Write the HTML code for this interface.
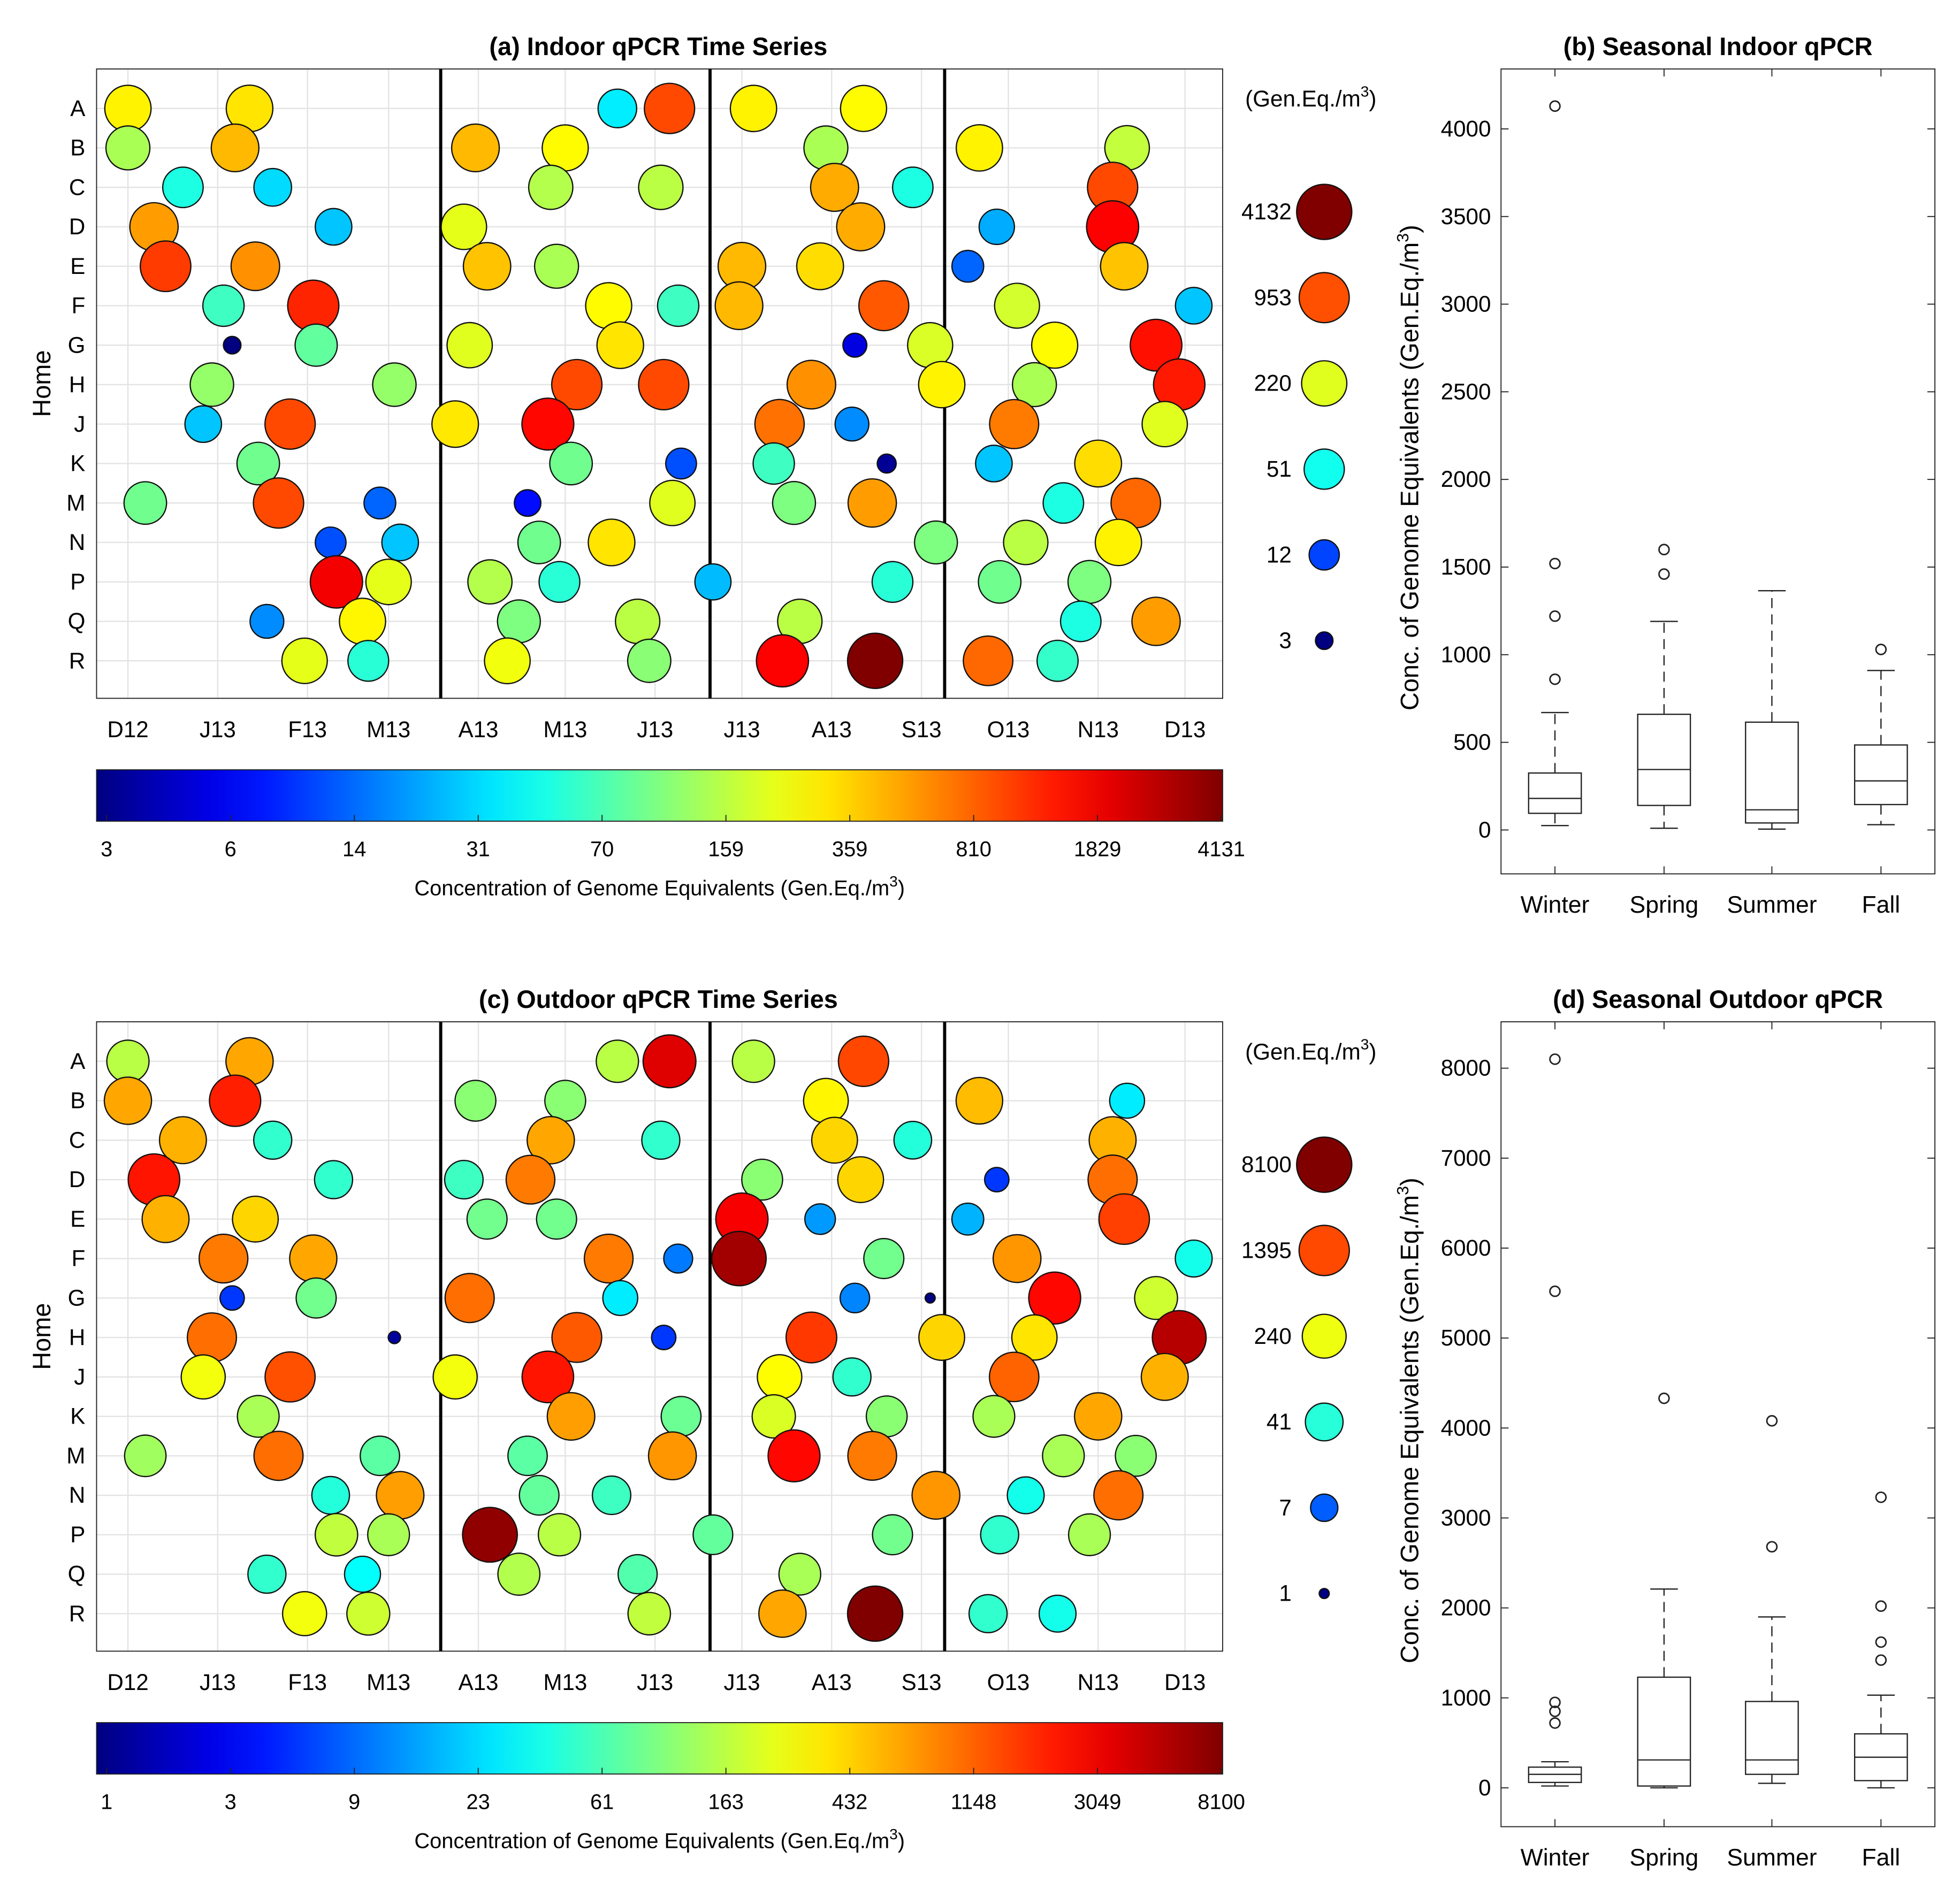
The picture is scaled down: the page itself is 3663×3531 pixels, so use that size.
<!DOCTYPE html>
<html><head><meta charset="utf-8"><style>
html,body{margin:0;padding:0;background:#fff;}
svg{display:block;font-family:"Liberation Sans",Arial,sans-serif;}
</style></head><body>
<svg id="fig" width="3663" height="3531" viewBox="0 0 1563 1506.7" xmlns="http://www.w3.org/2000/svg"></svg>
<script>
// ---------- DATA ----------
const rowLabels = ["A","B","C","D","E","F","G","H","J","K","M","N","P","Q","R"];
const monthTicks = ["D12","J13","F13","M13","A13","M13","J13","J13","A13","S13","O13","N13","D13"];
const monthDays = [0,31,62,90,121,151,182,212,243,274,304,335,365];
const seasonDividers = [108,201,282];

const inDays = [0,42,169,187,216,254, 0,37,120,151,241,294,345, 19,50,146,184,244,271,340, 9,71,116,253,300,340, 13,44,124,148,212,239,290,344, 33,64,166,190,211,261,307,368, 36,65,118,170,251,277,320,355, 29,92,155,185,236,281,313,363, 26,56,113,145,225,250,306,358, 45,153,191,223,262,299,335, 6,52,87,138,188,230,257,323,348, 70,94,142,167,279,310,342, 72,90,125,149,202,264,301,332, 48,81,135,176,232,329,355, 61,83,131,180,226,258,297,321];
const inRows = ["A","A","A","A","A","A","B","B","B","B","B","B","B","C","C","C","C","C","C","C","D","D","D","D","D","D","E","E","E","E","E","E","E","E","F","F","F","F","F","F","F","F","G","G","G","G","G","G","G","G","H","H","H","H","H","H","H","H","J","J","J","J","J","J","J","J","K","K","K","K","K","K","K","M","M","M","M","M","M","M","M","M","N","N","N","N","N","N","N","P","P","P","P","P","P","P","P","Q","Q","Q","Q","Q","Q","Q","R","R","R","R","R","R","R","R"];
const inVals = [300,330,40,1000,300,280, 150,450,450,280,150,300,180, 55,35,160,170,500,55,1000, 550,30,230,500,25,1700, 1100,600,420,150,450,350,15,420, 70,1300,280,70,450,900,200,30, 3,90,220,330,6,210,280,1500, 130,130,1000,1000,600,300,150,1400, 30,1000,320,1600,750,20,700,220, 100,100,13,70,3.5,30,350, 100,1000,15,8,220,110,550,55,800, 13,30,100,330,110,170,300, 1800,230,160,60,28,60,100,110, 20,290,110,170,170,55,550, 230,60,250,120,1700,4131,800,65];

const outDays = [0,42,169,187,216,254, 0,37,120,151,241,294,345, 19,50,146,184,244,271,340, 9,71,116,139,219,253,300,340, 13,44,124,148,212,239,290,344, 33,64,166,190,211,261,307,368, 36,65,118,170,251,277,320,355, 29,92,155,185,236,281,313,363, 26,56,113,145,225,250,306,358, 45,153,191,223,262,299,335, 6,52,87,138,188,230,257,323,348, 70,94,142,167,279,310,342, 72,90,125,149,202,264,301,332, 48,81,135,176,232, 61,83,180,226,258,297,321];
const outRows = ["A","A","A","A","A","A","B","B","B","B","B","B","B","C","C","C","C","C","C","C","D","D","D","D","D","D","D","D","E","E","E","E","E","E","E","E","F","F","F","F","F","F","F","F","G","G","G","G","G","G","G","G","H","H","H","H","H","H","H","H","J","J","J","J","J","J","J","J","K","K","K","K","K","K","K","M","M","M","M","M","M","M","M","M","N","N","N","N","N","N","N","P","P","P","P","P","P","P","P","Q","Q","Q","Q","Q","R","R","R","R","R","R","R"];
const outVals = [150,600,150,3500,150,1400, 600,2000,100,100,300,500,25, 550,45,600,45,400,40,550, 2200,45,50,900,100,400,5,1000, 550,400,80,80,2800,12,15,1500, 900,600,900,9,6000,80,700,35, 5,80,1000,25,10,1,2500,180, 1000,1.3,1200,5,1600,400,350,5000, 250,1300,250,2200,280,45,1100,550, 130,650,75,200,100,130,600, 120,1000,65,65,700,2500,900,130,100, 40,650,70,50,700,35,1000, 160,130,7000,150,70,80,45,130, 45,30,140,60,130, 250,180,160,600,8100,45,35];

const inCbLabels = ["3","6","14","31","70","159","359","810","1829","4131"];
const outCbLabels = ["1","3","9","23","61","163","432","1148","3049","8100"];
const inLegendVals = [4132,953,220,51,12,3];
const outLegendVals = [8100,1395,240,41,7,1];

const seasons = ["Winter","Spring","Summer","Fall"];
const inWhiskLo = [25,10,5,30], inQ1=[95,140,40,145], inMed=[180,345,115,280], inQ3=[325,660,615,485], inWhiskHi=[670,1190,1365,910];
const inOutliers = [[860,1220,1520,4130],[1460,1600],[],[1030]];
const outWhiskLo=[20,0,50,0], outQ1=[60,20,150,80], outMed=[150,310,310,340], outQ3=[230,1230,960,600], outWhiskHi=[290,2210,1900,1030];
const outOutliers = [[720,850,950,5520,8100],[4330],[2680,4080],[1420,1620,2020,3230]];
const inYTicks=[0,500,1000,1500,2000,2500,3000,3500,4000];
const outYTicks=[0,1000,2000,3000,4000,5000,6000,7000,8000];

// ---------- HELPERS ----------
const NS="http://www.w3.org/2000/svg";
const svg=document.getElementById('fig');
function mk(tag,attrs,parent,text){const e=document.createElementNS(NS,tag);for(const k in attrs)e.setAttribute(k,attrs[k]);if(text!==undefined)e.textContent=text;(parent||svg).appendChild(e);return e;}
function jet(t){t=Math.max(0,Math.min(1,t));
 const r=Math.min(1,Math.max(0,Math.min(4*t-1.5,-4*t+4.5)));
 const g=Math.min(1,Math.max(0,Math.min(4*t-0.5,-4*t+3.5)));
 const b=Math.min(1,Math.max(0,Math.min(4*t+0.5,-4*t+2.5)));
 return `rgb(${Math.round(r*255)},${Math.round(g*255)},${Math.round(b*255)})`;}
function interp(tab,t){for(let i=1;i<tab.length;i++){if(t<=tab[i][0]){const a=tab[i-1],b=tab[i];return a[1]+(b[1]-a[1])*(t-a[0])/(b[0]-a[0]);}}return tab[tab.length-1][1];}
const defs=mk('defs',{});
const lg=mk('linearGradient',{id:'jetgrad',x1:0,x2:1,y1:0,y2:0},defs);
for(let i=0;i<=20;i++){mk('stop',{offset:(i/20),'stop-color':jet(i/20)},lg);}

function timePanel(cfg){
 const X0=77,X1=975,top=cfg.top,bot=cfg.top+502;
 const xS=d=>102+d*(945-102)/365;
 const yS=i=>top+31.5+i*31.47;
 const g=mk('g',{});  
 mk('text',{x:525,y:top-11,'text-anchor':'middle','font-size':20,'font-weight':'bold'},g,cfg.title);
 // grid
 monthDays.forEach(d=>mk('line',{x1:xS(d),x2:xS(d),y1:top,y2:bot,stroke:'#e3e3e3','stroke-width':1},g));
 rowLabels.forEach((r,i)=>mk('line',{x1:X0,x2:X1,y1:yS(i),y2:yS(i),stroke:'#e3e3e3','stroke-width':1},g));
 mk('rect',{x:X0,y:top,width:X1-X0,height:bot-top,fill:'none',stroke:'#222','stroke-width':0.8},g);
 seasonDividers.forEach(d=>{const l=mk('line',{x1:xS(d),x2:xS(d),y1:top,y2:bot,stroke:'#000','stroke-width':2.5},g);});
 rowLabels.forEach((r,i)=>{const t=mk('text',{x:68,y:yS(i)+6,'text-anchor':'end','font-size':18},g,r);});
 monthTicks.forEach((m,i)=>{const t=mk('text',{x:xS(monthDays[i]),y:bot+31,'text-anchor':'middle','font-size':18},g,m);});
 const yt=mk('text',{x:0,y:0,'text-anchor':'middle','font-size':20,transform:`translate(40,${(top+bot)/2}) rotate(-90)`},g,'Home');
 
 const L=Math.log(cfg.min),R=Math.log(cfg.max);
 const tf=v=>(Math.log(v)-L)/(R-L);
 const rf=v=>interp(cfg.sizeTab,Math.max(0,tf(v)));
 cfg.days.forEach((d,k)=>{const v=cfg.vals[k];
  const c=mk('circle',{cx:xS(d),cy:yS(rowLabels.indexOf(cfg.rows[k])),r:rf(v),fill:jet(tf(v)),stroke:'#111','stroke-width':1},g);
  });
 // legend
 const lt=mk('text',{x:993,y:top+30,'font-size':18},g);
 lt.textContent='(Gen.Eq./m';mk('tspan',{dy:-8,'font-size':12},lt,'3');mk('tspan',{dy:8},lt,')');
 cfg.legendVals.forEach((v,i)=>{const y=top+114+i*68.4;
  const t=mk('text',{x:1030,y:y+6,'text-anchor':'end','font-size':18},g,String(v));
  const c=mk('circle',{cx:1056,cy:y,r:rf(v),fill:jet(tf(v)),stroke:'#111','stroke-width':1},g);});
 // colorbar
 const cbTop=top+559;
 const cb=mk('rect',{x:X0,y:cbTop,width:X1-X0,height:41,fill:'url(#jetgrad)',stroke:'#222','stroke-width':0.8},g);
 cfg.cbLabels.forEach((s,i)=>{const x=X0+8+i*(974-85)/9;
  mk('line',{x1:x,x2:x,y1:cbTop+41,y2:cbTop+36,stroke:'#222','stroke-width':0.8},g);
  const t=mk('text',{x:x,y:cbTop+69,'text-anchor':'middle','font-size':17},g,s);});
 const ct=mk('text',{x:526,y:cbTop+100,'text-anchor':'middle','font-size':17},g);
 ct.textContent='Concentration of Genome Equivalents (Gen.Eq./m';mk('tspan',{dy:-7,'font-size':12},ct,'3');mk('tspan',{dy:7},ct,')');
}

function boxPanel(cfg){
 const X0=1197,X1=1543,top=cfg.top,bot=cfg.top+642;
 const yS=v=>cfg.y0-v*cfg.k;
 const xs=[1240,1327,1413,1500];
 const g=mk('g',{});
 mk('text',{x:1370,y:top-11,'text-anchor':'middle','font-size':20,'font-weight':'bold'},g,cfg.title);
 mk('rect',{x:X0,y:top,width:X1-X0,height:bot-top,fill:'none',stroke:'#222','stroke-width':0.8},g);
 cfg.ticks.forEach(v=>{const y=yS(v);
  mk('line',{x1:X0,x2:X0+6,y1:y,y2:y,stroke:'#222','stroke-width':0.8},g);
  mk('line',{x1:X1,x2:X1-6,y1:y,y2:y,stroke:'#222','stroke-width':0.8},g);
  const t=mk('text',{x:1189,y:y+6,'text-anchor':'end','font-size':18},g,String(v));});
 seasons.forEach((s,i)=>{
  mk('line',{x1:xs[i],x2:xs[i],y1:bot,y2:bot-6,stroke:'#222','stroke-width':0.8},g);
  mk('line',{x1:xs[i],x2:xs[i],y1:top,y2:top+6,stroke:'#222','stroke-width':0.8},g);
  const t=mk('text',{x:xs[i],y:bot+31,'text-anchor':'middle','font-size':19},g,s);
  const bg=mk('g',{},g);
  const x=xs[i],w=21,cw=11;
  mk('line',{x1:x,x2:x,y1:yS(cfg.q3[i]),y2:yS(cfg.hi[i]),stroke:'#222','stroke-width':1,'stroke-dasharray':'8,5'},bg);
  mk('line',{x1:x,x2:x,y1:yS(cfg.q1[i]),y2:yS(cfg.lo[i]),stroke:'#222','stroke-width':1,'stroke-dasharray':'8,5'},bg);
  mk('line',{x1:x-cw,x2:x+cw,y1:yS(cfg.hi[i]),y2:yS(cfg.hi[i]),stroke:'#222','stroke-width':1},bg);
  mk('line',{x1:x-cw,x2:x+cw,y1:yS(cfg.lo[i]),y2:yS(cfg.lo[i]),stroke:'#222','stroke-width':1},bg);
  mk('rect',{x:x-w,y:yS(cfg.q3[i]),width:2*w,height:yS(cfg.q1[i])-yS(cfg.q3[i]),fill:'none',stroke:'#222','stroke-width':1},bg);
  mk('line',{x1:x-w,x2:x+w,y1:yS(cfg.med[i]),y2:yS(cfg.med[i]),stroke:'#222','stroke-width':1},bg);
  cfg.out[i].forEach(v=>{const c=mk('circle',{cx:x,cy:yS(v),r:4,fill:'none',stroke:'#222','stroke-width':1.2},bg);});
 });
 const yt=mk('text',{x:0,y:0,'text-anchor':'middle','font-size':20,transform:`translate(1131,${(top+bot)/2-3}) rotate(-90)`},g);
 
 yt.textContent='Conc. of Genome Equivalents (Gen.Eq./m';mk('tspan',{dy:-8,'font-size':13},yt,'3');mk('tspan',{dy:8},yt,')');
}

timePanel({name:'indoor-time-series',title:'(a) Indoor qPCR Time Series',top:55,days:inDays,rows:inRows,vals:inVals,min:3,max:4131,
 sizeTab:[[0,7],[0.19,12],[0.39,16],[0.59,18],[0.8,20],[1,22]],legendVals:inLegendVals,cbLabels:inCbLabels});
timePanel({name:'outdoor-time-series',title:'(c) Outdoor qPCR Time Series',top:815,days:outDays,rows:outRows,vals:outVals,min:1,max:8100,
 sizeTab:[[0,4],[0.22,11],[0.41,15],[0.61,17.5],[0.8,20],[1,22]],legendVals:outLegendVals,cbLabels:outCbLabels});
boxPanel({name:'indoor-seasonal-boxplot',title:'(b) Seasonal Indoor qPCR',top:55,y0:662,k:0.1398,ticks:inYTicks,
 lo:inWhiskLo,q1:inQ1,med:inMed,q3:inQ3,hi:inWhiskHi,out:inOutliers});
boxPanel({name:'outdoor-seasonal-boxplot',title:'(d) Seasonal Outdoor qPCR',top:815,y0:1426,k:0.07175,ticks:outYTicks,
 lo:outWhiskLo,q1:outQ1,med:outMed,q3:outQ3,hi:outWhiskHi,out:outOutliers});
</script>
</body></html>
